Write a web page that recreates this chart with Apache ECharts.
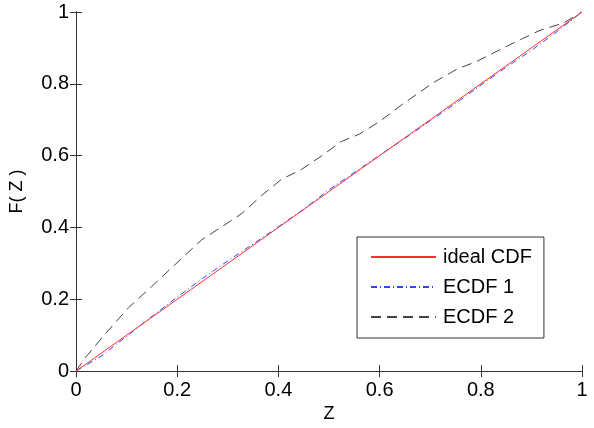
<!DOCTYPE html>
<html>
<head>
<meta charset="utf-8">
<script src="https://cdn.jsdelivr.net/npm/echarts@6/dist/echarts.min.js"></script>
<style>
  html, body { margin: 0; padding: 0; background: #fff; }
  #main { width: 594px; height: 428px; }
</style>
</head>
<body>
<div id="main"></div>
<script>
// 数据
var idealZ = [0, 1];
var idealF = [0, 1];

var ecdf1Z = [0, 0.05, 0.1, 0.15, 0.2, 0.25, 0.3, 0.35, 0.4, 0.45, 0.5, 0.55, 0.6, 0.65, 0.7, 0.75, 0.8, 0.85, 0.9, 0.95, 1];
var ecdf1F = [0, 0.042, 0.097, 0.152, 0.206, 0.258, 0.307, 0.354, 0.402, 0.451, 0.505, 0.553, 0.601, 0.648, 0.697, 0.745, 0.796, 0.846, 0.893, 0.945, 1];

var ecdf2Z = [0, 0.02, 0.058, 0.104, 0.15, 0.209, 0.248, 0.287, 0.327, 0.366, 0.406, 0.445, 0.484, 0.524, 0.56, 0.6, 0.642, 0.707, 0.753, 0.793, 0.839, 0.878, 0.917, 0.963, 1];
var ecdf2F = [0, 0.04, 0.104, 0.177, 0.236, 0.314, 0.365, 0.401, 0.438, 0.488, 0.534, 0.561, 0.598, 0.639, 0.66, 0.695, 0.74, 0.804, 0.841, 0.863, 0.896, 0.923, 0.949, 0.969, 1];

var xTicks = ["0", "0.2", "0.4", "0.6", "0.8", "1"];
var yTicks = ["0", "0.2", "0.4", "0.6", "0.8", "1"];

function pairs(xs, ys) {
  return xs.map(function (x, i) { return [x, ys[i]]; });
}

var font = "Arial, 'Liberation Sans', sans-serif";
var axisColor = "#333";

function fmtX(v) {
  return xTicks[Math.round(v * 5)];
}
function fmtY(v) {
  return yTicks[Math.round(v * 5)];
}

var myChart = echarts.init(document.getElementById("main"));

var option = {
  backgroundColor: "#fff",
  animation: false,
  grid: { left: 74, right: 12, top: 12, bottom: 52, containLabel: false },
  xAxis: [
    {
      type: "value", min: 0, max: 1, interval: 0.2,
      name: "Z", nameLocation: "middle", nameGap: 28,
      nameTextStyle: { fontSize: 18, color: "#000", fontFamily: font },
      axisLine: { show: true, lineStyle: { color: axisColor, width: 1 } },
      axisTick: { show: true, inside: true, length: 6, lineStyle: { color: axisColor } },
      axisLabel: { margin: 9, fontSize: 20, color: "#000", fontFamily: font, formatter: fmtX },
      splitLine: { show: false }
    },
    {
      type: "value", min: 0, max: 1, interval: 0.2, position: "top",
      axisLine: { show: true, lineStyle: { color: axisColor, width: 1 } },
      axisTick: { show: true, inside: true, length: 6, lineStyle: { color: axisColor } },
      axisLabel: { show: false },
      splitLine: { show: false }
    }
  ],
  yAxis: [
    {
      type: "value", min: 0, max: 1, interval: 0.2,
      name: "F( Z )", nameLocation: "middle", nameGap: 50,
      nameTextStyle: { fontSize: 18, color: "#000", fontFamily: font },
      axisLine: { show: true, lineStyle: { color: axisColor, width: 1 } },
      axisTick: { show: true, inside: true, length: 6, lineStyle: { color: axisColor } },
      axisLabel: { margin: 7, fontSize: 20, color: "#000", fontFamily: font, formatter: fmtY },
      splitLine: { show: false }
    },
    {
      type: "value", min: 0, max: 1, interval: 0.2, position: "right",
      axisLine: { show: true, lineStyle: { color: axisColor, width: 1 } },
      axisTick: { show: true, inside: true, length: 6, lineStyle: { color: axisColor } },
      axisLabel: { show: false },
      splitLine: { show: false }
    }
  ],
  legend: {
    orient: "vertical",
    left: 357, top: 237,
    padding: [10, 12, 11, 13],
    itemWidth: 65, itemHeight: 14, itemGap: 10,
    itemStyle: { opacity: 0 },
    backgroundColor: "#fff",
    borderColor: "#333", borderWidth: 1, borderRadius: 0,
    textStyle: { fontSize: 20, color: "#000", fontFamily: font, padding: [0, 0, 0, 2] },
    data: ["ideal CDF", "ECDF 1", "ECDF 2"]
  },
  series: [
    {
      name: "ideal CDF", type: "line", symbol: "none",
      data: pairs(idealZ, idealF),
      lineStyle: { color: "#ff3030", width: 1 },
      itemStyle: { color: "#ff3030" },
      z: 3
    },
    {
      name: "ECDF 1", type: "line", symbol: "none",
      data: pairs(ecdf1Z, ecdf1F),
      lineStyle: { color: "#3344ff", width: 1, type: [6, 3, 1, 3] },
      itemStyle: { color: "#3344ff" },
      z: 2
    },
    {
      name: "ECDF 2", type: "line", symbol: "none",
      data: pairs(ecdf2Z, ecdf2F),
      lineStyle: { color: "#444", width: 1, type: [10, 6] },
      itemStyle: { color: "#444" },
      z: 2
    }
  ]
};

myChart.setOption(option);
</script>
</body>
</html>
